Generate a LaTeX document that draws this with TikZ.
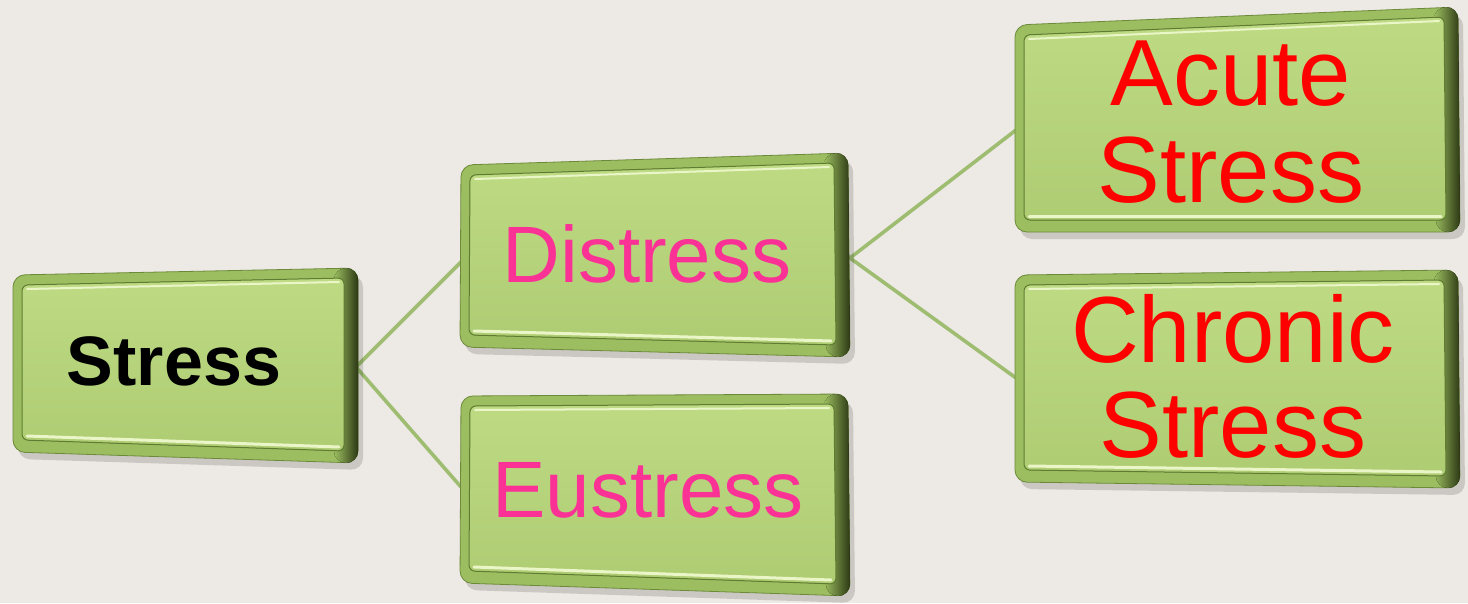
\documentclass[tikz,border=0pt]{standalone}
\usepackage{fontspec}
\setmainfont{Liberation Sans}
\usetikzlibrary{calc}

\definecolor{paper}{RGB}{237,233,229}
\definecolor{rimgreen}{RGB}{156,190,96}
\definecolor{rimline}{RGB}{108,138,58}
\definecolor{beveldark}{RGB}{44,56,20}
\definecolor{facetop}{RGB}{190,219,132}
\definecolor{facebot}{RGB}{174,204,114}
\definecolor{faceline}{RGB}{96,124,50}
\definecolor{shine}{RGB}{234,246,200}
\definecolor{linkgreen}{RGB}{158,189,112}
\definecolor{pinktext}{RGB}{250,50,150}
\definecolor{redtext}{RGB}{255,0,0}

\tikzset{
  boxshadow/.style={fill=black, opacity=0.14, rounded corners=12pt},
  boxrim/.style={fill=rimgreen, draw=rimline, line width=0.8pt, rounded corners=12pt},
  boxbevel/.style={left color=rimgreen, right color=beveldark, rounded corners=12pt},
  boxface/.style={top color=facetop, bottom color=facebot, draw=faceline, line width=1pt, rounded corners=6pt},
  boxshine/.style={draw=shine, line width=2pt, line cap=round},
  link/.style={draw=linkgreen, line width=3.6pt},
  label/.style={inner sep=0pt, align=center},
}

% a raised bevelled tile given its four corners (top-left, top-right, bottom-right, bottom-left)
\newcommand\glasstile[5]{%
  \coordinate (#1-tl) at (#2);
  \coordinate (#1-tr) at (#3);
  \coordinate (#1-br) at (#4);
  \coordinate (#1-bl) at (#5);
  \fill[boxshadow] ($(#1-tl)+(5,7)$) -- ($(#1-tr)+(5,7)$) -- ($(#1-br)+(5,7)$) -- ($(#1-bl)+(5,7)$) -- cycle;
  \filldraw[boxrim] (#1-tl) -- (#1-tr) -- (#1-br) -- (#1-bl) -- cycle;
  \fill[boxbevel] ($(#1-tr)+(-24,0)$) -- (#1-tr) -- (#1-br) -- ($(#1-br)+(-24,0)$) -- cycle;
  \filldraw[boxface] ($(#1-tl)+(9,10)$) -- ($(#1-tr)+(-14,10)$) -- ($(#1-br)+(-14,-12)$) -- ($(#1-bl)+(9,-12)$) -- cycle;
  \draw[boxshine] ($(#1-tl)+(14,14)$) -- ($(#1-tr)+(-19,14)$);
  \draw[boxshine, line width=3pt] ($(#1-bl)+(14,-16)$) -- ($(#1-br)+(-19,-16)$);
}

\begin{document}
\begin{tikzpicture}[x=1pt,y=-1pt]
  \fill[paper] (0,0) rectangle (1468,603);
  \useasboundingbox (0,0) rectangle (1468,603);

  % attachment points of the connectors
  \coordinate (stress-e)   at (356,367);
  \coordinate (distress-w) at (461,262);
  \coordinate (eustress-w) at (461,487);
  \coordinate (distress-e) at (850,258);
  \coordinate (acute-w)    at (1016,130);
  \coordinate (chronic-w)  at (1016,378);

  % connectors (behind the tiles)
  \draw[link] (distress-w) -- (stress-e) -- (eustress-w);
  \draw[link] (acute-w) -- (distress-e) -- (chronic-w);

  % tiles
  \glasstile{stress}{13,275}{358,268}{358,463}{13,452}
  \glasstile{distress}{461,165}{848,153}{850,357}{460,347}
  \glasstile{eustress}{461,396}{848,394}{850,596}{460,583}
  \glasstile{acute}{1015,25}{1458,7}{1460,232}{1015,232}
  \glasstile{chronic}{1015,275}{1458,270}{1460,488}{1015,482}

  % labels (base anchor = baseline of the last line)
  \node[label, anchor=base, font=\fontsize{70}{72}\selectfont\bfseries, text=black]
    (stress) at (174,385) {Stress};
  \node[label, anchor=base, font=\fontsize{80}{84}\selectfont, text=pinktext]
    (distress) at (647,282) {Distress};
  \node[label, anchor=base, font=\fontsize{80}{84}\selectfont, text=pinktext]
    (eustress) at (648,517) {Eustress};
  \node[label, anchor=base, font=\fontsize{94}{97}\selectfont, text=redtext]
    (acute) at (1231,202) {Acute\\Stress};
  \node[label, anchor=base, font=\fontsize{94}{95}\selectfont, text=redtext]
    (chronic) at (1233,457) {Chronic\\Stress};
\end{tikzpicture}
\end{document}
